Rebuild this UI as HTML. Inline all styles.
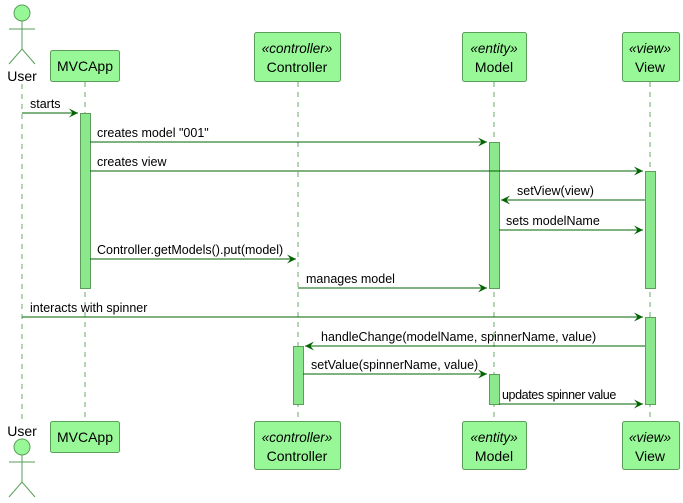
<!DOCTYPE html><html><head><style>body{margin:0;background:#fff}svg{display:block}text{font-family:"Liberation Sans",sans-serif;font-size:12.5px;fill:#000}text.b{font-size:14px}text.s{font-size:13.5px;font-style:italic}</style></head><body>
<svg width="683" height="503" viewBox="0 0 683 503" xmlns="http://www.w3.org/2000/svg">
<defs><marker id="a" viewBox="0 0 10 10" refX="10" refY="5" markerWidth="12" markerHeight="9" orient="auto" markerUnits="userSpaceOnUse"><path d="M0,0 L10,5 L0,10 L4,5 Z" fill="#006400"/></marker></defs>
<g stroke="#6aa86a" stroke-dasharray="5,5" stroke-width="1">
<line x1="22" y1="84" x2="22" y2="420"/><line x1="85" y1="82" x2="85" y2="420"/><line x1="298" y1="82" x2="298" y2="420"/><line x1="494" y1="82" x2="494" y2="420"/><line x1="650" y1="82" x2="650" y2="420"/></g>
<g fill="#98f898" stroke="#5a9e5a" stroke-width="1">
<circle cx="22" cy="13" r="8"/><circle cx="22" cy="447" r="8"/>
<rect x="50.5" y="50.5" width="69" height="31" rx="2"/><rect x="254.5" y="32.5" width="86" height="49" rx="2"/><rect x="462.5" y="32.5" width="64" height="49" rx="2"/><rect x="622.5" y="32.5" width="57" height="49" rx="2"/>
<rect x="50.5" y="421.5" width="69" height="31" rx="2"/><rect x="254.5" y="421.5" width="86" height="48" rx="2"/><rect x="462.5" y="421.5" width="64" height="48" rx="2"/><rect x="622.5" y="421.5" width="57" height="48" rx="2"/></g>
<g fill="#8ce88c" stroke="#5a9e5a" stroke-width="1">
<rect x="80.5" y="113.5" width="10" height="175"/><rect x="489.5" y="142.5" width="10" height="146"/><rect x="645.5" y="171.5" width="10" height="117"/><rect x="645.5" y="317.5" width="10" height="87"/><rect x="293.5" y="346.5" width="10" height="58"/><rect x="489.5" y="374.5" width="10" height="30"/></g>
<g stroke="#5a9e5a" fill="none"><path d="M22,21V49M9,29H35M9,64L22,49L35,64"/><path d="M22,455V482M9,462H35M9,497L22,482L35,497"/></g>
<g text-anchor="middle"><text class="b" x="22" y="81">User</text><text class="b" x="22" y="436">User</text>
<text class="b" x="85" y="71">MVCApp</text><text class="b" x="85" y="442">MVCApp</text>
<text class="s" x="297" y="53">«controller»</text><text class="b" x="297" y="72">Controller</text><text class="s" x="297" y="442">«controller»</text><text class="b" x="297" y="461">Controller</text>
<text class="s" x="494" y="53">«entity»</text><text class="b" x="494" y="72">Model</text><text class="s" x="494" y="442">«entity»</text><text class="b" x="494" y="461">Model</text>
<text class="s" x="650" y="53">«view»</text><text class="b" x="650" y="72">View</text><text class="s" x="650" y="442">«view»</text><text class="b" x="650" y="461">View</text></g>
<g stroke="#006400" stroke-width="1" marker-end="url(#a)">
<line x1="22" y1="113" x2="78" y2="113"/><line x1="90" y1="142" x2="487" y2="142"/><line x1="90" y1="171" x2="643" y2="171"/><line x1="645" y1="200" x2="501" y2="200"/><line x1="499" y1="230" x2="643" y2="230"/><line x1="90" y1="259" x2="296" y2="259"/><line x1="298" y1="288" x2="487" y2="288"/><line x1="22" y1="317" x2="643" y2="317"/><line x1="645" y1="346" x2="305" y2="346"/><line x1="303" y1="374" x2="487" y2="374"/><line x1="499" y1="404" x2="643" y2="404"/></g>
<text x="30" y="108">starts</text><text x="97" y="137">creates model "001"</text><text x="97" y="166">creates view</text><text x="517" y="195">setView(view)</text><text x="506" y="225">sets modelName</text><text x="97" y="254">Controller.getModels().put(model)</text><text x="306" y="283">manages model</text><text x="30" y="312">interacts with spinner</text><text x="321" y="341">handleChange(modelName, spinnerName, value)</text><text x="311" y="369">setValue(spinnerName, value)</text><text x="502" y="399" letter-spacing="-0.4">updates spinner value</text>
</svg></body></html>
